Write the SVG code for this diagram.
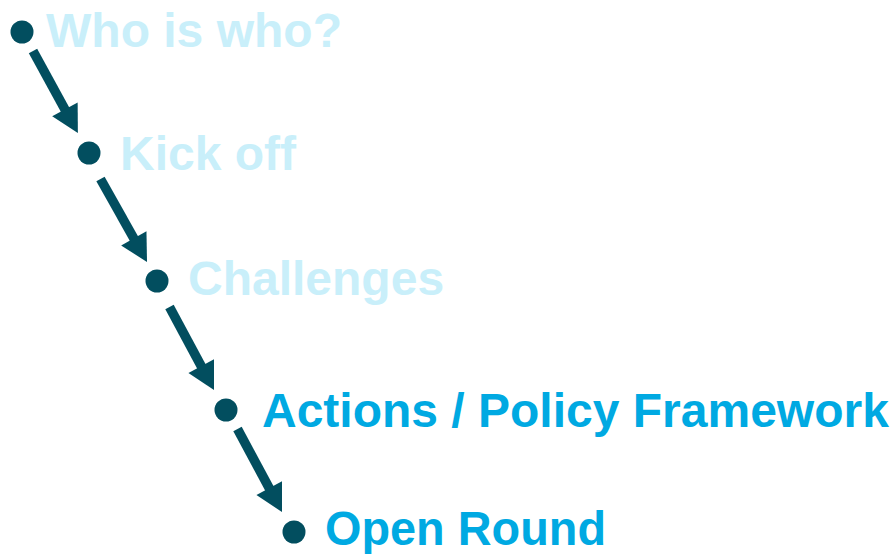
<svg xmlns="http://www.w3.org/2000/svg" width="893" height="554" viewBox="0 0 893 554">
<style>
.dot{fill:#024E5F}
.lbl{font-family:"Liberation Sans",Arial,sans-serif;font-weight:bold;font-size:48px}
.dim{fill:#C9EFFA}
.act{fill:#00A9E2}
.arr{stroke:#024E5F;stroke-width:9.5;fill:none;stroke-linecap:butt}
</style>
<defs>
<marker id="ah" markerUnits="userSpaceOnUse" markerWidth="30" markerHeight="32" viewBox="0 -16 28 32" refX="1" refY="0" orient="auto">
<path d="M0,-14.5 L27,0 L0,14.5 Z" fill="#024E5F"/>
</marker>
</defs>
<g id="connectors">
<line class="arr" x1="33" y1="51" x2="65.4" y2="110.3" marker-end="url(#ah)"/>
<line class="arr" x1="100.5" y1="179" x2="134.3" y2="239.3" marker-end="url(#ah)"/>
<line class="arr" x1="169.5" y1="307" x2="201.7" y2="367.1" marker-end="url(#ah)"/>
<line class="arr" x1="237.5" y1="429" x2="269.7" y2="489.1" marker-end="url(#ah)"/>
</g>
<g id="n1"><circle class="dot" cx="22" cy="32" r="11.5"/><text class="lbl dim" x="46" y="47">Who is who?</text></g>
<g id="n2"><circle class="dot" cx="89" cy="153" r="11.5"/><text class="lbl dim" x="120" y="170">Kick off</text></g>
<g id="n3"><circle class="dot" cx="157" cy="281" r="11.5"/><text class="lbl dim" x="188" y="295">Challenges</text></g>
<g id="n4"><circle class="dot" cx="226" cy="410" r="11.5"/><text class="lbl act" x="262" y="427">Actions / Policy Framework</text></g>
<g id="n5"><circle class="dot" cx="294" cy="532" r="11.5"/><text class="lbl act" x="325" y="545" textLength="281" lengthAdjust="spacingAndGlyphs">Open Round</text></g>
</svg>
